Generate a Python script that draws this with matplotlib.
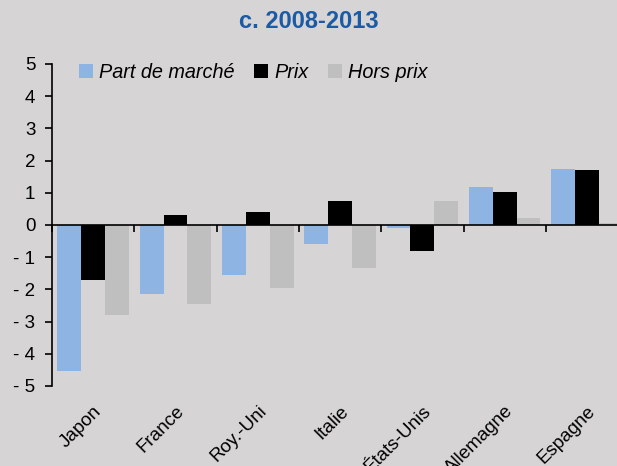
import matplotlib.pyplot as plt
import numpy as np

plt.rcParams["font.family"] = ["Liberation Sans", "DejaVu Sans"]

pays = ["Japon", "France", "Roy.-Uni", "Italie", "États-Unis", "Allemagne", "Espagne"]
part_marche = [-4.55, -2.15, -1.55, -0.6, -0.1, 1.18, 1.75]
prix = [-1.72, 0.3, 0.4, 0.75, -0.8, 1.02, 1.7]
hors_prix = [-2.8, -2.45, -1.95, -1.33, 0.75, 0.23, 0.05]
y_ticks = [-5, -4, -3, -2, -1, 0, 1, 2, 3, 4, 5]

bg = "#d6d4d5"
bleu = "#8eb4e3"
gris = "#bfbfbf"

fig = plt.figure(figsize=(6.17, 4.66), dpi=100, facecolor=bg)
ax = fig.add_axes([0.0843, 0.1717, 0.9157, 0.691])
ax.set_facecolor(bg)

x = np.arange(len(pays))
w = 0.29
ax.bar(x - w, part_marche, w, color=bleu, label="Part de marché")
ax.bar(x, prix, w, color="black", label="Prix")
ax.bar(x + w, hors_prix, w, color=gris, label="Hors prix")

ax.set_ylim(-5, 5)
ax.set_xlim(-0.5, 6.365)

# spines
for s in ["top", "right"]:
    ax.spines[s].set_visible(False)
ax.spines["left"].set_linewidth(1.2)
ax.spines["bottom"].set_position(("data", 0))
ax.spines["bottom"].set_linewidth(1.2)

ax.set_yticks(y_ticks)
ax.set_yticklabels([str(v).replace("-", "- ") for v in y_ticks], fontsize=13.5)
ax.tick_params(axis="y", direction="out", length=5, width=1.2, pad=7)

# boundary ticks on the zero line
ax.set_xticks(np.arange(len(pays)) - 0.5)
ax.set_xticklabels([])
ax.tick_params(axis="x", direction="out", length=5, width=1.2)

# category labels at the bottom
sec = ax.secondary_xaxis(0)
sec.set_xticks(x)
sec.set_xticklabels(pays, rotation=45, ha="right", rotation_mode="anchor", fontsize=13.5)
sec.tick_params(length=0, pad=12)
sec.spines["bottom"].set_visible(False)

ax.legend(loc="upper left", bbox_to_anchor=(0.016, 1.06), ncol=3, frameon=False,
          prop={"style": "italic", "size": 14.3}, handlelength=0.7, handleheight=0.7,
          handletextpad=0.3, columnspacing=1.0)

fig.text(0.5, 0.953, "c. 2008-2013", ha="center", va="center", fontsize=17,
         fontweight="bold", color="#1b5aa5")

fig.savefig("out.png", dpi=100, facecolor=bg)
